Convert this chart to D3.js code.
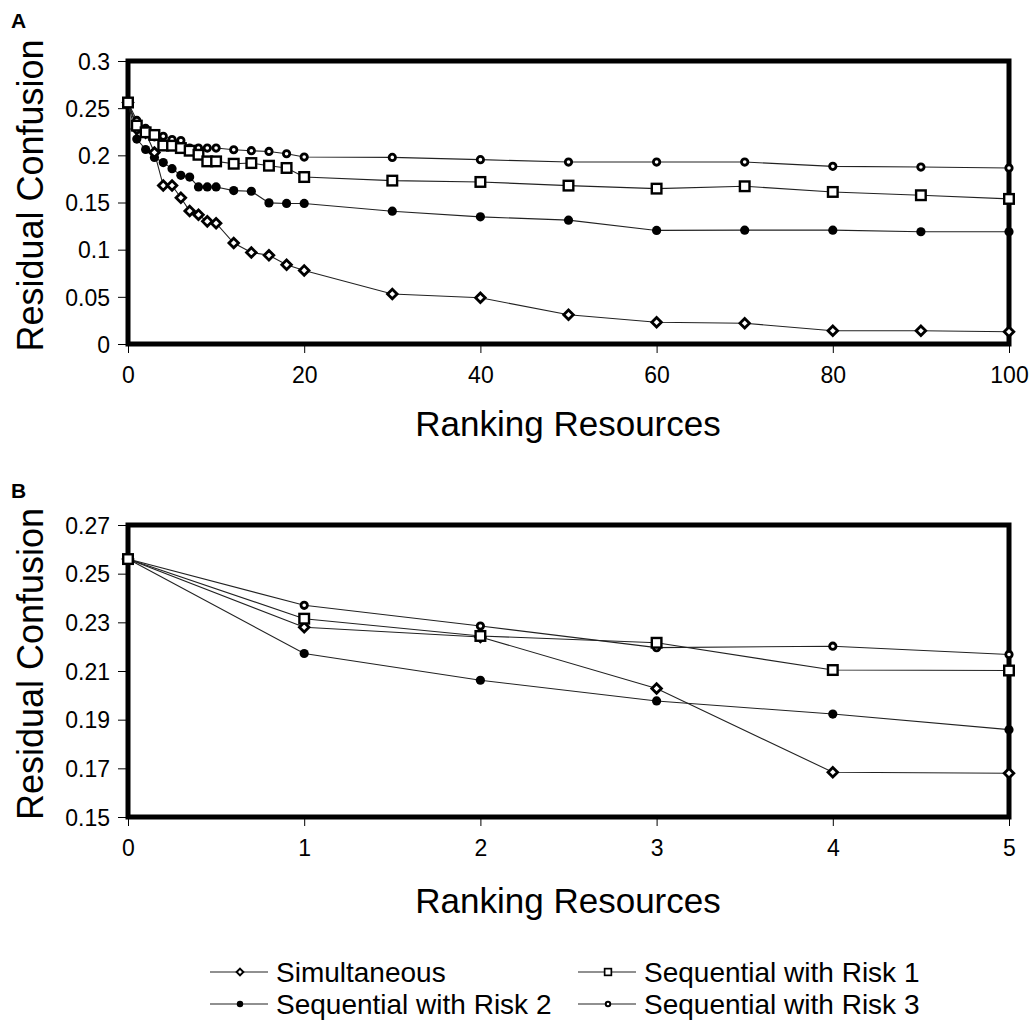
<!DOCTYPE html>
<html>
<head>
<meta charset="utf-8">
<script src="https://cdn.jsdelivr.net/npm/d3@7"></script>
<style>
  html, body { margin: 0; padding: 0; background: #fff; }
  text { font-family: "Liberation Sans", Arial, Helvetica, sans-serif; fill: #000; }
</style>
</head>
<body>
<svg id="chart" width="1031" height="1028"></svg>
<script>
// ---------- data ----------
const rankingA = [0,1,2,3,4,5,6,7,8,9,10,12,14,16,18,20,30,40,50,60,70,80,90,100];
const simultaneous = [0.256,0.228,0.224,0.203,0.168,0.168,0.155,0.141,0.137,0.130,0.128,0.107,0.097,0.094,0.084,0.078,0.053,0.049,0.031,0.023,0.022,0.014,0.014,0.013];
const risk1 = [0.256,0.2315,0.2244,0.2216,0.2104,0.2102,0.2077,0.2049,0.2006,0.1936,0.1936,0.1911,0.1918,0.189,0.1866,0.177,0.1732,0.1718,0.1679,0.1647,0.1672,0.1612,0.1577,0.1538];
const risk2 = [0.256,0.2172,0.2062,0.1977,0.1923,0.1859,0.1788,0.177,0.1665,0.1665,0.1665,0.1626,0.1619,0.1496,0.149,0.149,0.1408,0.1348,0.1313,0.1204,0.1207,0.1207,0.119,0.119];
const risk3 = [0.256,0.237,0.2285,0.2196,0.2202,0.2168,0.2157,0.2077,0.2077,0.2077,0.2077,0.2059,0.2049,0.2041,0.2017,0.1982,0.1978,0.1954,0.1929,0.1929,0.1929,0.1883,0.1876,0.1866];

const rankingB = [0,1,2,3,4,5];
const simultaneousB = [0.256,0.228,0.224,0.2028,0.1684,0.168];
const risk1B = [0.256,0.2315,0.2244,0.2216,0.2104,0.2102];
const risk2B = [0.256,0.2172,0.2062,0.1977,0.1923,0.1859];
const risk3B = [0.256,0.237,0.2285,0.2196,0.2202,0.2168];

const seriesNames = ["Simultaneous","Sequential with Risk 1","Sequential with Risk 2","Sequential with Risk 3"];
const ticksXA = [0,20,40,60,80,100];
const ticksYA = [0,0.05,0.1,0.15,0.2,0.25,0.3];
const ticksXB = [0,1,2,3,4,5];
const ticksYB = [0.15,0.17,0.19,0.21,0.23,0.25,0.27];

// ---------- drawing ----------
const svg = d3.select("#chart");

function marker(g, type, x, y, scale) {
  const s = scale || 1;
  if (type === "diamond") {
    const r = 4.8 * s;
    g.append("path")
      .attr("d", `M${x},${y - r}L${x + r},${y}L${x},${y + r}L${x - r},${y}Z`)
      .attr("fill", "#fff").attr("stroke", "#000").attr("stroke-width", 2.8 * s);
  } else if (type === "square") {
    const h = 4.8 * s;
    g.append("rect").attr("x", x - h).attr("y", y - h).attr("width", 2 * h).attr("height", 2 * h)
      .attr("fill", "#fff").attr("stroke", "#000").attr("stroke-width", 2.4 * s);
  } else if (type === "filled") {
    g.append("circle").attr("cx", x).attr("cy", y).attr("r", 4.6 * s).attr("fill", "#000");
  } else if (type === "open") {
    g.append("circle").attr("cx", x).attr("cy", y).attr("r", 3.2 * s)
      .attr("fill", "#fff").attr("stroke", "#000").attr("stroke-width", 2.8 * s);
  }
}

function panel(opts) {
  const x = d3.scaleLinear().domain(opts.xDomain).range([128, 1009]);
  const y = d3.scaleLinear().domain(opts.yDomain).range(opts.yRange);
  const g = svg.append("g");

  const yAxis = d3.axisLeft(y).tickValues(opts.yTicks).tickSize(8).tickPadding(8)
    .tickFormat(opts.yFmt);
  const ya = g.append("g").attr("transform", "translate(126,0)").call(yAxis);
  ya.select(".domain").remove();
  ya.selectAll("line").attr("stroke", "#000").attr("stroke-width", 1);
  ya.selectAll("text").style("font-size", "23px").attr("dy", "0.36em");

  const xAxis = d3.axisBottom(x).tickValues(opts.xTicks).tickSize(7).tickPadding(14)
    .tickFormat(d3.format("d"));
  const xa = g.append("g").attr("transform", `translate(0,${opts.yRange[0] + 2})`).call(xAxis);
  xa.select(".domain").remove();
  xa.selectAll("line").attr("stroke", "#000").attr("stroke-width", 1);
  xa.selectAll("text").style("font-size", "23px");

  g.append("rect")
    .attr("x", x.range()[0]).attr("y", opts.yRange[1])
    .attr("width", x.range()[1] - x.range()[0])
    .attr("height", opts.yRange[0] - opts.yRange[1])
    .attr("fill", "none").attr("stroke", "#000").attr("stroke-width", 5);

  const line = d3.line().x(d => x(d[0])).y(d => y(d[1]));
  const types = ["diamond","square","filled","open"];
  const order = [3,2,0,1];
  order.forEach(i => {
    const pts = opts.xs.map((xv, k) => [xv, opts.series[i][k]]);
    g.append("path").attr("d", line(pts)).attr("fill", "none")
      .attr("stroke", "#222").attr("stroke-width", 1.1);
  });
  order.forEach(i => {
    opts.xs.forEach((xv, k) => marker(g, types[i], x(xv), y(opts.series[i][k]), 1));
  });

  g.append("text").attr("x", 11).attr("y", opts.labelY).text(opts.label)
    .style("font-size", "21px").style("font-weight", "bold");
  g.append("text")
    .attr("transform", `translate(43,${(opts.yRange[0] + opts.yRange[1]) / 2 - 7}) rotate(-90)`)
    .attr("text-anchor", "middle").style("font-size", "36px").text("Residual Confusion");
  g.append("text").attr("x", 568).attr("y", opts.titleY)
    .attr("text-anchor", "middle").style("font-size", "35px").text("Ranking Resources");
}

panel({
  xDomain: [0, 100], yDomain: [0, 0.3], yRange: [344, 61],
  xs: rankingA, series: [simultaneous, risk1, risk2, risk3],
  xTicks: ticksXA, yTicks: ticksYA, yFmt: d => d3.format("")(+d.toFixed(2)),
  label: "A", labelY: 28, titleY: 436
});
panel({
  xDomain: [0, 5], yDomain: [0.15, 0.27], yRange: [817, 525],
  xs: rankingB, series: [simultaneousB, risk1B, risk2B, risk3B],
  xTicks: ticksXB, yTicks: ticksYB, yFmt: d3.format(".2f"),
  label: "B", labelY: 498, titleY: 913
});

// legend
const legend = svg.append("g");
const legendPos = [
  {i: 0, x: 210, y: 972}, {i: 1, x: 578, y: 972},
  {i: 2, x: 210, y: 1004}, {i: 3, x: 578, y: 1004}
];
const ltypes = ["diamond","square","filled","open"];
legendPos.forEach(p => {
  legend.append("line").attr("x1", p.x).attr("x2", p.x + 58).attr("y1", p.y).attr("y2", p.y)
    .attr("stroke", "#222").attr("stroke-width", 1.1);
  marker(legend, ltypes[p.i], p.x + 30, p.y, 0.7);
  legend.append("text").attr("x", p.x + 66).attr("y", p.y + 10)
    .style("font-size", "28px").text(seriesNames[p.i]);
});
</script>
</body>
</html>
